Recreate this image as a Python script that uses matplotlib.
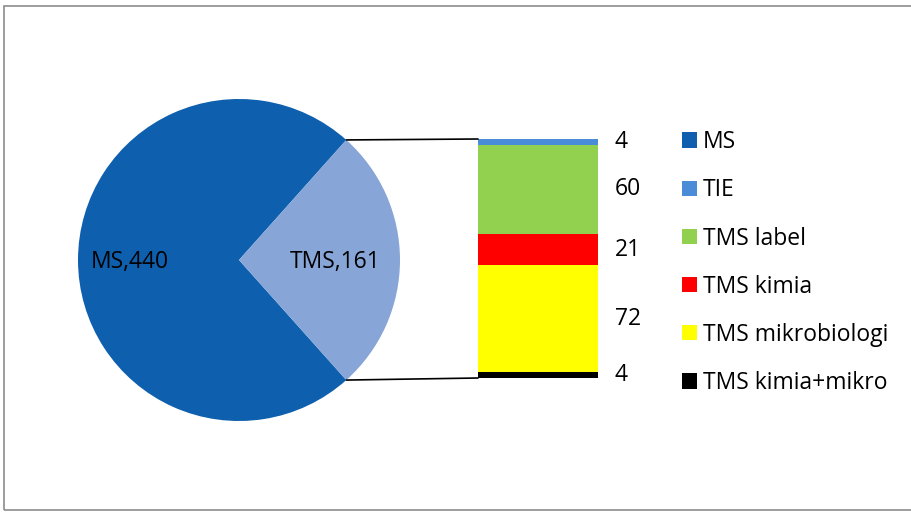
import numpy as np
import matplotlib
matplotlib.use("Agg")
import matplotlib.pyplot as plt
from matplotlib.patches import Patch, Rectangle, ConnectionPatch

plt.rcParams['font.family'] = ['Open Sans', 'DejaVu Sans']

# data
pie_labels = ["MS", "TMS"]
pie_values = [440, 161]
pie_colors = ["#0E5FAD", "#88A5D8"]

bar_labels = ["TIE", "TMS label", "TMS kimia", "TMS mikrobiologi", "TMS kimia+mikro"]
bar_values = [4, 60, 21, 72, 4]
bar_colors = ["#4A8CD8", "#92D050", "#FF0000", "#FFFF00", "#000000"]

FS = 16.5
W, H = 911, 512
fig = plt.figure(figsize=(W / 100, H / 100), dpi=100)

# outer border of the chart area
fig.patches.append(Rectangle((4 / W, 2 / H), 1.2, (H - 8) / H, transform=fig.transFigure,
                             fill=False, edgecolor="#8C8C8C", linewidth=1.2))

# pie
cx, cy, r = 239, 252, 161
ax_pie = fig.add_axes([(cx - r) / W, (cy - r) / H, 2 * r / W, 2 * r / H])
half = 360 * pie_values[1] / sum(pie_values) / 2
wedges, _ = ax_pie.pie(pie_values, colors=pie_colors, startangle=half, radius=1,
                       labels=None, wedgeprops=dict(linewidth=0))
ax_pie.set_xlim(-1, 1)
ax_pie.set_ylim(-1, 1)
ax_pie.axis("off")
label_r = [0.68, 0.60]
for w, lab, v, rr in zip(wedges, pie_labels, pie_values, label_r):
    mid = np.deg2rad((w.theta1 + w.theta2) / 2)
    ax_pie.text(rr * np.cos(mid), rr * np.sin(mid) - 0.01, f"{lab},{v}", ha="center", va="center",
                fontsize=FS, color="black")

# stacked bar (top to bottom in list order)
ax_bar = fig.add_axes([478 / W, (H - 378) / H, 120 / W, 239 / H])
total = sum(bar_values)
tops = total - np.cumsum([0] + bar_values[:-1])
for lab, v, c, top in zip(bar_labels, bar_values, bar_colors, tops):
    ax_bar.bar(0, v, bottom=top - v, width=1, color=c, linewidth=0)
    ax_bar.text(0.64, top - v / 2, str(v), ha="left", va="center", fontsize=FS, clip_on=False)
ax_bar.set_xlim(-0.5, 0.5)
ax_bar.set_ylim(0, total)
ax_bar.axis("off")

# connector lines from the pie slice to the bar
for ang, yb in [(np.deg2rad(half), total), (np.deg2rad(-half), 0)]:
    con = ConnectionPatch(xyA=(np.cos(ang), np.sin(ang)), coordsA=ax_pie.transData,
                          xyB=(-0.5, yb), coordsB=ax_bar.transData,
                          color="black", linewidth=1.2)
    fig.add_artist(con)

# legend
handles = [Patch(facecolor=pie_colors[0], label=pie_labels[0])]
handles += [Patch(facecolor=c, label=l) for c, l in zip(bar_colors, bar_labels)]
fig.legend(handles=handles, loc="upper left", bbox_to_anchor=(673 / W, 1 - 121 / H),
           frameon=False, fontsize=FS, handlelength=0.65, handleheight=0.65,
           handletextpad=0.25, labelspacing=1.055, borderaxespad=0)

fig.savefig("out.png", dpi=100)
